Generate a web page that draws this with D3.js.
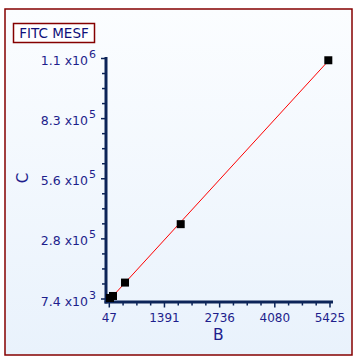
<!DOCTYPE html>
<html>
<head>
<meta charset="utf-8">
<script src="https://cdn.jsdelivr.net/npm/d3@7"></script>
<style>
  body { margin: 0; background: #fff; }
  svg { display: block; font-family: "DejaVu Sans", Verdana, sans-serif; }
  .tickLabel { fill: #1e1e8c; font-size: 12px; }
</style>
</head>
<body>
<div id="chart"></div>
<script>
// data
const xValues = [64, 137, 430, 1787, 5384];
const yValues = [12000, 21100, 81850, 346800, 1090000];

const xTicks = [47, 1391, 2736, 4080, 5425];
const yTicks = [7400, 280050, 552700, 825350, 1098000];
const yTickText = [["7.4 x10", "3"], ["2.8 x10", "5"], ["5.6 x10", "5"], ["8.3 x10", "5"], ["1.1 x10", "6"]];

const width = 362, height = 363;
const navy = "#0c2458";
const labelBlue = "#1e1e8c";

const svg = d3.select("#chart").append("svg")
    .attr("width", width)
    .attr("height", height);

// background gradient
const grad = svg.append("defs").append("linearGradient")
    .attr("id", "bg")
    .attr("x1", 0).attr("y1", 0).attr("x2", 0).attr("y2", 1);
grad.append("stop").attr("offset", "0%").attr("stop-color", "#fbfdff");
grad.append("stop").attr("offset", "100%").attr("stop-color", "#e9f2fc");

svg.append("rect")
    .attr("x", 5).attr("y", 9)
    .attr("width", 347).attr("height", 346)
    .attr("fill", "url(#bg)")
    .attr("stroke", "#850000")
    .attr("stroke-width", 1.5);

// title box
svg.append("rect")
    .attr("x", 13.5).attr("y", 23.5)
    .attr("width", 81).attr("height", 19)
    .attr("fill", "#fff")
    .attr("stroke", "#850000")
    .attr("stroke-width", 1.5);
svg.append("text")
    .attr("x", 54).attr("y", 37.8)
    .attr("text-anchor", "middle")
    .attr("fill", "#10107a")
    .style("font-size", "13.5px")
    .text("FITC MESF");

// scales
const x = d3.scaleLinear().domain([47, 5425]).range([109.3, 330]);
const y = d3.scaleLinear().domain([7400, 1098000]).range([299, 58.5]);

const axisX0 = 106, axisX1 = 333, axisY0 = 302, axisY1 = 57;

// minor ticks (3 between majors)
function minors(t) {
  const out = [];
  for (let i = 0; i < t.length - 1; i++) {
    const step = (t[i + 1] - t[i]) / 4;
    for (let k = 1; k < 4; k++) out.push(t[i] + k * step);
  }
  return out;
}

const axes = svg.append("g");

axes.selectAll("line.ymajor")
  .data(yTicks)
    .enter()
  .append("line")
    .attr("x1", axisX0 - 5).attr("x2", axisX0)
    .attr("y1", d => y(d)).attr("y2", d => y(d))
    .attr("stroke", navy).attr("stroke-width", 1.5);

axes.selectAll("line.yminor")
  .data(minors(yTicks))
    .enter()
  .append("line")
    .attr("x1", axisX0 - 4).attr("x2", axisX0)
    .attr("y1", d => y(d)).attr("y2", d => y(d))
    .attr("stroke", navy).attr("stroke-width", 1.5);

axes.selectAll("line.xmajor")
  .data(xTicks)
    .enter()
  .append("line")
    .attr("y1", axisY0).attr("y2", axisY0 + 5.5)
    .attr("x1", d => x(d)).attr("x2", d => x(d))
    .attr("stroke", navy).attr("stroke-width", 1.5);

axes.selectAll("line.xminor")
  .data(minors(xTicks))
    .enter()
  .append("line")
    .attr("y1", axisY0).attr("y2", axisY0 + 3.5)
    .attr("x1", d => x(d)).attr("x2", d => x(d))
    .attr("stroke", navy).attr("stroke-width", 1.5);

// axis lines
axes.append("line")
    .attr("x1", axisX0).attr("x2", axisX0)
    .attr("y1", axisY1).attr("y2", axisY0 + 1.5)
    .attr("stroke", navy).attr("stroke-width", 3);
axes.append("line")
    .attr("x1", axisX0 - 1.5).attr("x2", axisX1)
    .attr("y1", axisY0).attr("y2", axisY0)
    .attr("stroke", navy).attr("stroke-width", 3);

// tick labels
axes.selectAll("text.xlab")
  .data(xTicks)
    .enter()
  .append("text")
    .attr("class", "tickLabel")
    .attr("x", d => x(d))
    .attr("y", 321.7)
    .attr("text-anchor", "middle")
    .text(d => d);

const ylab = axes.selectAll("text.ylab")
  .data(yTicks)
    .enter()
  .append("text")
    .attr("class", "tickLabel")
    .attr("x", 96)
    .attr("y", d => y(d) + 6.5)
    .attr("text-anchor", "end")
    .style("font-size", "12.5px");
ylab.append("tspan").text((d, i) => yTickText[i][0]);
ylab.append("tspan")
    .attr("dx", 1)
    .attr("dy", -7)
    .style("font-size", "11px")
    .text((d, i) => yTickText[i][1]);

// axis titles
svg.append("text")
    .attr("transform", "translate(28,178) rotate(-90)")
    .attr("text-anchor", "middle")
    .attr("fill", labelBlue)
    .style("font-size", "15px")
    .text("C");
svg.append("text")
    .attr("x", 218.3).attr("y", 339.5)
    .attr("text-anchor", "middle")
    .attr("fill", labelBlue)
    .style("font-size", "15.5px")
    .text("B");

// least squares fit line
const mx = d3.mean(xValues), my = d3.mean(yValues);
const slope = d3.sum(xValues, (v, i) => (v - mx) * (yValues[i] - my)) /
              d3.sum(xValues, v => (v - mx) * (v - mx));
const intercept = my - slope * mx;
const fitX = [x.invert(108.3), d3.max(xValues)];

svg.append("line")
    .attr("x1", x(fitX[0])).attr("y1", y(intercept + slope * fitX[0]))
    .attr("x2", x(fitX[1])).attr("y2", y(intercept + slope * fitX[1]))
    .attr("stroke", "#ff0000")
    .attr("stroke-width", 1);

// points
svg.selectAll("rect.pt")
  .data(xValues.map((v, i) => [v, yValues[i]]))
    .enter()
  .append("rect")
    .attr("class", "pt")
    .attr("x", d => x(d[0]) - 4)
    .attr("y", d => y(d[1]) - 4)
    .attr("width", 8).attr("height", 8)
    .attr("fill", "#000");
</script>
</body>
</html>
